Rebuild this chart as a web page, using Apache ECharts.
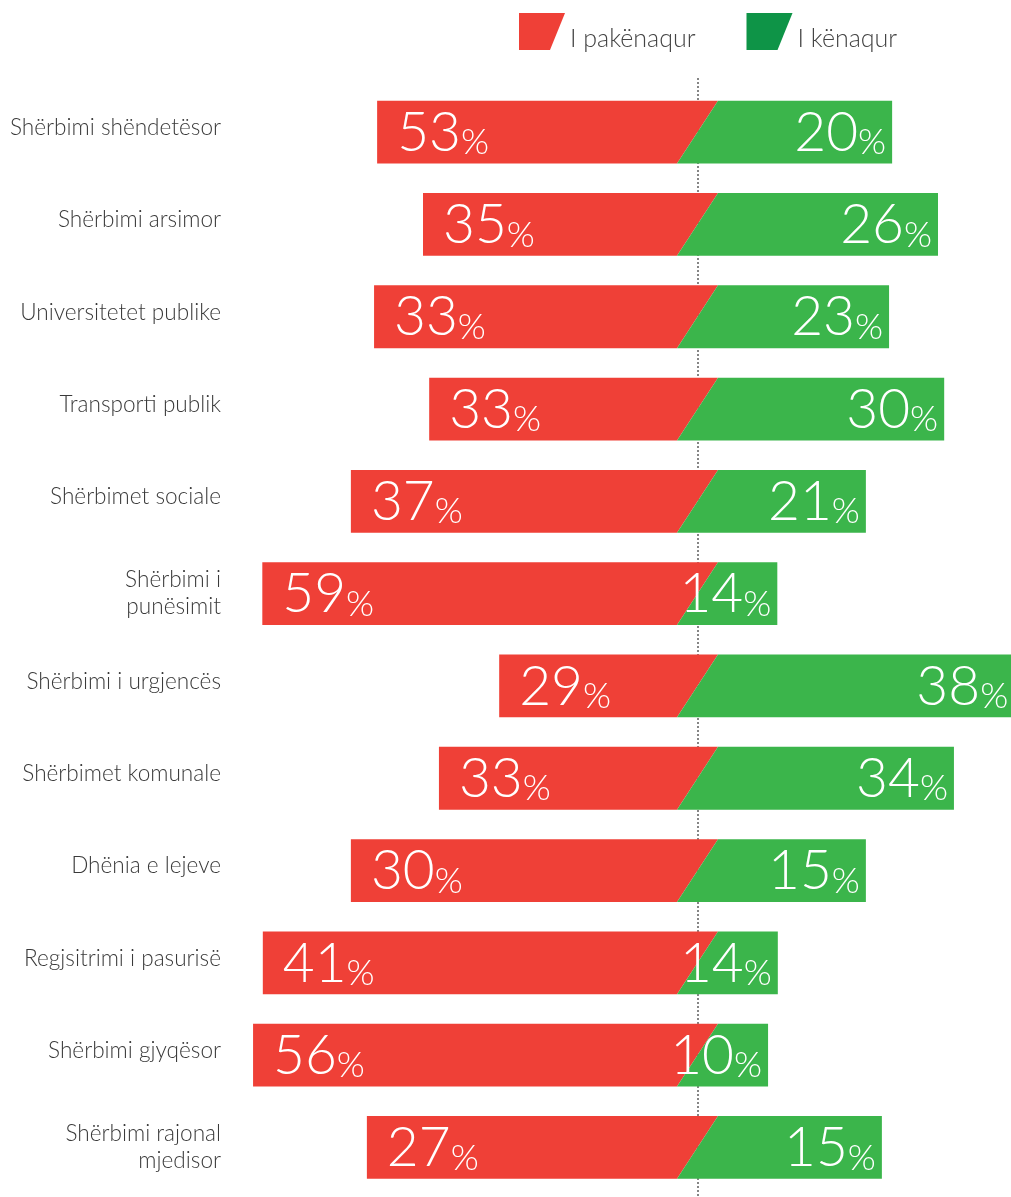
<!DOCTYPE html>
<html>
<head>
<meta charset="utf-8">
<script src="https://cdn.jsdelivr.net/npm/echarts@6/dist/echarts.min.js"></script>
<style>
html,body{margin:0;padding:0;background:#ffffff;}
#chart{width:1011px;height:1197px;}
</style>
</head>
<body>
<div id="chart"></div>
<script>
// ---- data ----
const categories = [
  'Shërbimi shëndetësor',
  'Shërbimi arsimor',
  'Universitetet publike',
  'Transporti publik',
  'Shërbimet sociale',
  'Shërbimi i\npunësimit',
  'Shërbimi i urgjencës',
  'Shërbimet komunale',
  'Dhënia e lejeve',
  'Regjsitrimi i pasurisë',
  'Shërbimi gjyqësor',
  'Shërbimi rajonal\nmjedisor'
];
const dissatisfied = [53, 35, 33, 33, 37, 59, 29, 33, 30, 41, 56, 27];   // I pakënaqur (%)
const satisfied    = [20, 26, 23, 30, 21, 14, 38, 34, 15, 14, 10, 15];   // I kënaqur (%)
// how far each bar reaches left of the centre line (bar = 100 units wide)
const leftReach    = [62.3, 53.4, 62.9, 52.2, 67.4, 84.6, 38.6, 50.3, 67.4, 84.5, 86.4, 64.3];
const BAR_SPAN = 100;

const seriesNames = ['I pakënaqur', 'I kënaqur'];

// ---- styles ----
const RED = '#ef4037';
const GREEN = '#3bb54b';
const GREEN_LEGEND = '#0e9447';
const FONT = 'Lato';

function numRich() {
  return {
    n: { fontFamily: FONT, fontWeight: 300, fontSize: 55, lineHeight: 55, fill: '#ffffff', verticalAlign: 'bottom' },
    p: { fontFamily: FONT, fontWeight: 300, fontSize: 36, lineHeight: 44, fill: '#ffffff', verticalAlign: 'bottom' }
  };
}

function makeRender(side) {
  return function (params, api) {
    const cat = api.value(0);
    const reach = api.value(1);
    const val = api.value(2);
    const pL = api.coord([-reach, cat]);
    const pR = api.coord([BAR_SPAN - reach, cat]);
    const pC = api.coord([0, cat]);
    const band = api.size([0, 1])[1];
    const h = band * 0.68;
    const top = pL[1] - h / 2, bot = pL[1] + h / 2;
    const sTop = 20, sBot = -21;
    let pts, txt;
    if (side === 'red') {
      pts = [[pL[0], top], [pC[0] + sTop, top], [pC[0] + sBot, bot], [pL[0], bot]];
      txt = { type: 'text', z2: 10, style: { text: '{n|' + val + '}{p|%}', x: pL[0] + 20, y: pL[1] + 1, align: 'left', verticalAlign: 'middle', rich: numRich() } };
    } else {
      pts = [[pC[0] + sTop, top], [pR[0], top], [pR[0], bot], [pC[0] + sBot, bot]];
      txt = { type: 'text', z2: 10, style: { text: '{n|' + val + '}{p|%}', x: pR[0] - 6, y: pL[1] + 1, align: 'right', verticalAlign: 'middle', rich: numRich() } };
    }
    return {
      type: 'group',
      children: [
        { type: 'polygon', shape: { points: pts }, style: { fill: side === 'red' ? RED : GREEN } },
        txt
      ]
    };
  };
}

const redData = categories.map((c, i) => [i, leftReach[i], dissatisfied[i]]);
const greenData = categories.map((c, i) => [i, leftReach[i], satisfied[i]]);

const labelBase = { fontFamily: FONT, fontWeight: 300, fontSize: 22.6, lineHeight: 27, color: '#3a3a3a', align: 'right' };

const chart = echarts.init(document.getElementById('chart'), null, { renderer: 'canvas' });

const option = {
  animation: false,
  backgroundColor: '#ffffff',
  legend: {
    selectedMode: false,
    left: 519,
    top: 13,
    padding: 0,
    itemWidth: 46,
    itemHeight: 37,
    itemGap: 51,
    icon: 'path://M0,0 L46,0 L31,37 L0,37 Z',
    formatter: function (name) { return '{t|' + name + '}'; },
    textStyle: {
      fontFamily: FONT, fontWeight: 300, fontSize: 25, color: '#444444',
      rich: { t: { fontFamily: FONT, fontWeight: 300, fontSize: 25, color: '#444444', padding: [15, 0, 0, 0] } }
    },
    data: [
      { name: seriesNames[0], itemStyle: { color: RED } },
      { name: seriesNames[1], itemStyle: { color: GREEN_LEGEND } }
    ]
  },
  grid: { left: 183, right: 4, top: 86, bottom: 3.4 },
  xAxis: { type: 'value', min: -100, max: 60, show: false },
  yAxis: {
    type: 'category',
    data: categories,
    inverse: true,
    axisLine: { show: false },
    axisTick: { show: false },
    splitLine: { show: false },
    axisLabel: Object.assign({
      margin: -38,
      formatter: function (v) {
        if (v.indexOf('\n') >= 0) {
          return v.split('\n').map(function (l) { return '{b|' + l + '}'; }).join('\n');
        }
        return '{a|' + v + '}';
      },
      rich: {
        a: Object.assign({}, labelBase, { padding: [0, 0, 9, 0] }),
        b: Object.assign({}, labelBase)
      }
    }, labelBase)
  },
  series: [
    {
      name: 'guide',
      type: 'custom',
      z: 1,
      silent: true,
      data: [[0]],
      encode: { x: 0 },
      renderItem: function (params, api) {
        const cs = params.coordSys;
        const x = api.coord([0, 0])[0];
        return {
          type: 'line',
          shape: { x1: x, y1: cs.y - 8, x2: x, y2: cs.y + cs.height + 4 },
          style: { stroke: '#444444', lineWidth: 1.3, lineDash: [2, 2] }
        };
      }
    },
    {
      name: seriesNames[0],
      type: 'custom',
      z: 2,
      itemStyle: { color: RED },
      encode: { y: 0, x: 1 },
      data: redData,
      renderItem: makeRender('red')
    },
    {
      name: seriesNames[1],
      type: 'custom',
      z: 3,
      itemStyle: { color: GREEN },
      encode: { y: 0, x: 1 },
      data: greenData,
      renderItem: makeRender('green')
    }
  ]
};
chart.setOption(option);
</script>
</body>
</html>
